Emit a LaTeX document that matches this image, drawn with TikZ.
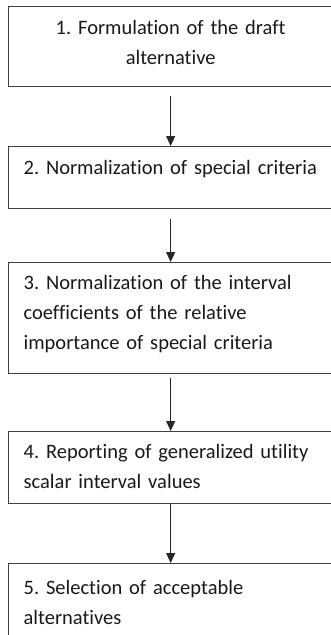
\documentclass[tikz,border=0pt]{standalone}
\usepackage{fontspec}
\setmainfont{Carlito}[Ligatures={NoCommon}]
\frenchspacing
\usetikzlibrary{arrows.meta}

\tikzset{
  stepbox/.style={draw=black!75, line width=1.3pt, anchor=north west,
    inner xsep=15pt, inner ysep=0pt, text width=294pt, align=left,
    text height=28pt, font=\fontsize{20.5}{30}\selectfont, text=black!90},
  flow/.style={-{Triangle[width=9pt,length=10pt]}, line width=0.9pt, draw=black!85}
}

\begin{document}
\begin{tikzpicture}[x=1pt,y=-1pt]
    \useasboundingbox (0,0) rectangle (331,635);
    \clip (0,0) rectangle (331,635);

    % Pasos
    \node[stepbox, align=center, text depth=52pt] (s1) at (8,6)
        {1. Formulation of the draft\\ alternative};
    \node[stepbox, text depth=34pt] (s2) at (8,146)
        {2. Normalization of special criteria};
    \node[stepbox, text height=27pt, text depth=84pt] (s3) at (8,262)
        {3. Normalization of the interval\\ coefficients of the relative\\ importance of special criteria};
    \node[stepbox, text height=27pt, text depth=45pt] (s4) at (8,431)
        {4. Reporting of generalized utility\\ scalar interval values};
    \node[stepbox, text height=31pt, text depth=80pt] (s5) at (8,563)
        {5. Selection of acceptable\\ alternatives};

    % Flechas
    \draw[flow, shorten <=9pt] (s1) -- (s2);
    \draw[flow, shorten <=10pt] (s2) -- (s3);
    \draw[flow, shorten <=4pt] (s3) -- (s4);
    \draw[flow] (s4) -- (s5);
\end{tikzpicture}
\end{document}
